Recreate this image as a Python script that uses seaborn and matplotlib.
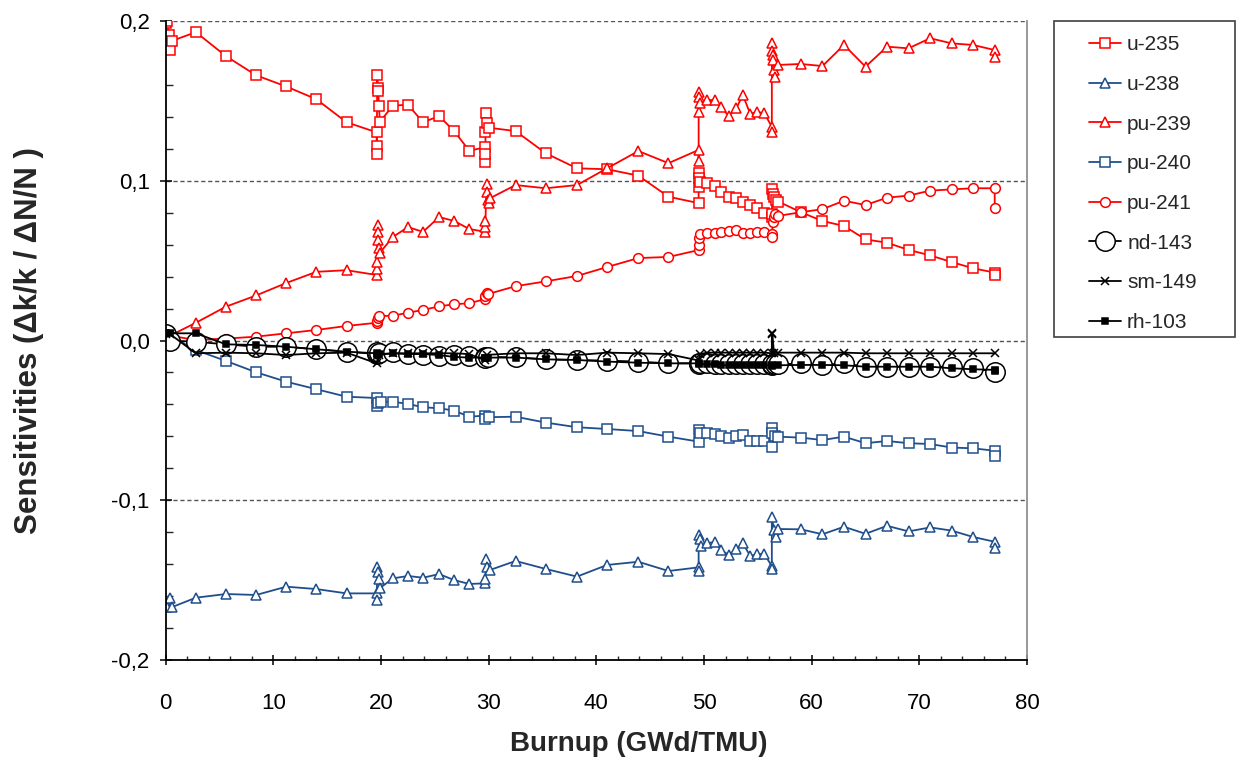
import matplotlib
matplotlib.use("Agg")
import matplotlib.pyplot as plt
import seaborn as sns
import pandas as pd
from matplotlib.lines import Line2D
from matplotlib.patches import Rectangle
from matplotlib.ticker import FixedLocator, FixedFormatter, MultipleLocator

# ---------------- data ----------------
series_names = ["u-235", "u-238", "pu-239", "pu-240", "pu-241", "nd-143", "sm-149", "rh-103"]

x_ticks = [0, 10, 20, 30, 40, 50, 60, 70, 80]
x_tick_labels = ["0", "10", "20", "30", "40", "50", "60", "70", "80"]
y_ticks = [-0.2, -0.1, 0.0, 0.1, 0.2]
y_tick_labels = ["-0,2", "-0,1", "0,0", "0,1", "0,2"]

u235_x = [0.0, 0.1, 0.3, 0.4, 0.55, 2.8, 5.6, 8.4, 11.2, 14.0, 16.8,
          19.6, 19.6, 19.6, 19.65, 19.7, 19.75, 19.8, 19.9,
          21.1, 22.5, 23.9, 25.4, 26.8, 28.2,
          29.7, 29.7, 29.7, 29.7, 29.75, 29.8, 30.0,
          32.5, 35.3, 38.2, 41.0, 43.9, 46.7,
          49.5, 49.5, 49.5, 49.55, 49.6,
          50.3, 51.0, 51.6, 52.3, 53.0, 53.6, 54.3, 54.9, 55.6,
          56.3, 56.3, 56.35, 56.4, 56.5, 56.7, 56.9,
          59.0, 61.0, 63.0, 65.0, 67.0, 69.0, 71.0, 73.0, 75.0, 77.0, 77.0]
u235_y = [0.199, 0.200, 0.191, 0.182, 0.1875, 0.193, 0.178, 0.166, 0.159, 0.151, 0.1366,
          0.1303, 0.1215, 0.1167, 0.166, 0.158, 0.156, 0.1468, 0.137,
          0.147, 0.1476, 0.1366, 0.1405, 0.131, 0.1188,
          0.121, 0.1115, 0.1165, 0.1307, 0.1426, 0.136, 0.1332,
          0.1311, 0.1172, 0.1078, 0.1072, 0.1032, 0.090,
          0.086, 0.0963, 0.1047, 0.102, 0.0994,
          0.0984, 0.0967, 0.093, 0.0896, 0.089, 0.087, 0.0848, 0.083, 0.080,
          0.077, 0.079, 0.095, 0.092, 0.090, 0.088, 0.087,
          0.0803, 0.0748, 0.0717, 0.0633, 0.0612, 0.0567, 0.0533, 0.0491, 0.0452, 0.0425, 0.041]

u238_x = [0.0, 0.1, 0.4, 0.55, 2.8, 5.6, 8.4, 11.2, 14.0, 16.8,
          19.6, 19.6, 19.65, 19.7, 19.8, 19.9,
          21.1, 22.5, 23.9, 25.4, 26.8, 28.2,
          29.7, 29.7, 29.75, 29.8, 30.1,
          32.5, 35.3, 38.2, 41.0, 43.9, 46.7,
          49.5, 49.5, 49.5, 49.6, 49.7,
          50.3, 51.0, 51.6, 52.3, 53.0, 53.6, 54.3, 54.9, 55.6,
          56.3, 56.3, 56.3, 56.5, 56.7, 56.9,
          59.0, 61.0, 63.0, 65.0, 67.0, 69.0, 71.0, 73.0, 75.0, 77.0, 77.0]
u238_y = [-0.1645, -0.167, -0.1614, -0.167, -0.161, -0.1587, -0.1593, -0.1541, -0.1556, -0.1583,
          -0.1583, -0.1625, -0.142, -0.145, -0.1495, -0.155,
          -0.1489, -0.1474, -0.1485, -0.1462, -0.150, -0.1524,
          -0.152, -0.149, -0.137, -0.142, -0.1437,
          -0.138, -0.143, -0.1478, -0.1405, -0.1385, -0.1443,
          -0.142, -0.1443, -0.1217, -0.124, -0.1286,
          -0.127, -0.126, -0.1311, -0.1343, -0.1307, -0.127, -0.1349, -0.1337, -0.1337,
          -0.1412, -0.1433, -0.1107, -0.1186, -0.1232, -0.118,
          -0.1182, -0.1213, -0.1166, -0.121, -0.116, -0.1195, -0.117, -0.119, -0.123, -0.126, -0.130]

pu239_x = [0.0, 0.4, 2.8, 5.6, 8.4, 11.2, 14.0, 16.8,
           19.6, 19.6, 19.6, 19.7, 19.7, 19.7, 19.8, 19.9,
           21.1, 22.5, 23.9, 25.4, 26.8, 28.2,
           29.7, 29.7, 29.7, 29.8, 29.8, 29.9, 30.0, 30.1,
           32.5, 35.3, 38.2, 41.0, 43.9, 46.7,
           49.5, 49.5, 49.5, 49.5, 49.55, 49.6,
           50.3, 51.0, 51.6, 52.3, 53.0, 53.6, 54.3, 54.9, 55.6,
           56.3, 56.3, 56.3, 56.35, 56.4, 56.45, 56.5, 56.6, 56.9,
           59.0, 61.0, 63.0, 65.0, 67.0, 69.0, 71.0, 73.0, 75.0, 77.0, 77.0]
pu239_y = [0.002, 0.003, 0.0111, 0.0212, 0.0282, 0.036, 0.043, 0.044,
           0.041, 0.045, 0.049, 0.072, 0.068, 0.063, 0.058, 0.055,
           0.0648, 0.071, 0.068, 0.0773, 0.0748, 0.0698,
           0.068, 0.071, 0.075, 0.098, 0.093, 0.088, 0.086, 0.089,
           0.0973, 0.0953, 0.0973, 0.1078, 0.1186, 0.111,
           0.1193, 0.1124, 0.1432, 0.1557, 0.1526, 0.1485,
           0.1505, 0.1505, 0.146, 0.1405, 0.1453, 0.1537, 0.1418, 0.1432, 0.1422,
           0.1338, 0.1307, 0.186, 0.181, 0.1787, 0.1756, 0.1693, 0.1651, 0.1725,
           0.1731, 0.1718, 0.185, 0.1714, 0.1839, 0.1829, 0.1892, 0.186, 0.185, 0.1818, 0.1777]

pu240_x = [0.0, 0.4, 2.8, 5.6, 8.4, 11.2, 14.0, 16.8,
           19.6, 19.6, 19.7, 20.0,
           21.1, 22.5, 23.9, 25.4, 26.8, 28.2,
           29.7, 29.7, 30.0,
           32.5, 35.3, 38.2, 41.0, 43.9, 46.7,
           49.5, 49.5, 49.6,
           50.3, 51.0, 51.6, 52.3, 53.0, 53.6, 54.3, 54.9, 55.6,
           56.3, 56.3, 56.35, 56.6, 56.9,
           59.0, 61.0, 63.0, 65.0, 67.0, 69.0, 71.0, 73.0, 75.0, 77.0, 77.0]
pu240_y = [0.004, 0.003, -0.006, -0.0128, -0.0199, -0.0258, -0.0305, -0.0352,
           -0.036, -0.041, -0.039, -0.0383,
           -0.0383, -0.0397, -0.0418, -0.0424, -0.0439, -0.0477,
           -0.047, -0.049, -0.048,
           -0.0477, -0.0514, -0.0543, -0.0554, -0.0567, -0.0602,
           -0.0633, -0.056, -0.0577,
           -0.0577, -0.0585, -0.0598, -0.0608, -0.0598, -0.0592, -0.0629, -0.0629, -0.0629,
           -0.0665, -0.055, -0.058, -0.0595, -0.0602,
           -0.0608, -0.0623, -0.0602, -0.0643, -0.0629, -0.0643, -0.0648, -0.067, -0.0675, -0.069, -0.072]

pu241_x = [0.0, 0.4, 2.8, 5.6, 8.4, 11.2, 14.0, 16.8,
           19.6, 19.65, 19.7, 19.8,
           21.1, 22.5, 23.9, 25.4, 26.8, 28.2,
           29.7, 29.7, 29.8, 29.9,
           32.5, 35.3, 38.2, 41.0, 43.9, 46.7,
           49.5, 49.5, 49.5, 49.6,
           50.3, 51.0, 51.6, 52.3, 53.0, 53.6, 54.3, 54.9, 55.6,
           56.3, 56.3, 56.4, 56.5, 56.6, 56.9,
           59.0, 61.0, 63.0, 65.0, 67.0, 69.0, 71.0, 73.0, 75.0, 77.0, 77.0]
pu241_y = [0.003, 0.003, 0.0003, 0.0012, 0.0024, 0.0045, 0.0066, 0.0091,
           0.0111, 0.0125, 0.014, 0.0153,
           0.0155, 0.0174, 0.0191, 0.0214, 0.0227, 0.0233,
           0.026, 0.028, 0.030, 0.029,
           0.034, 0.037, 0.0404, 0.046, 0.0516, 0.0523,
           0.0566, 0.060, 0.064, 0.0667,
           0.0673, 0.0673, 0.068, 0.0686, 0.069, 0.0673, 0.0673, 0.068, 0.068,
           0.0667, 0.065, 0.074, 0.077, 0.079, 0.078,
           0.0803, 0.0822, 0.0875, 0.0848, 0.0894, 0.0907, 0.0938, 0.0946, 0.0953, 0.0953, 0.0831]

nd143_x = [0.0, 0.4, 2.8, 5.6, 8.4, 11.2, 14.0, 16.8,
           19.6, 19.6, 19.8,
           21.1, 22.5, 23.9, 25.4, 26.8, 28.2,
           29.7, 29.7, 29.9,
           32.5, 35.3, 38.2, 41.0, 43.9, 46.7,
           49.5, 49.5, 49.6,
           50.3, 51.0, 51.6, 52.3, 53.0, 53.6, 54.3, 54.9, 55.6,
           56.3, 56.3, 56.6, 56.9,
           59.0, 61.0, 63.0, 65.0, 67.0, 69.0, 71.0, 73.0, 75.0, 77.0]
nd143_y = [0.004, 0.0, -0.0008, -0.0024, -0.0039, -0.0039, -0.0055, -0.007,
           -0.0085, -0.0075, -0.008,
           -0.0075, -0.0083, -0.0091, -0.0095, -0.0091, -0.0097,
           -0.0105, -0.011, -0.0103,
           -0.0105, -0.0118, -0.0122, -0.0126, -0.0132, -0.0143,
           -0.0143, -0.015, -0.0143,
           -0.0143, -0.0145, -0.0145, -0.0148, -0.0148, -0.015, -0.015, -0.015, -0.015,
           -0.0155, -0.0145, -0.015, -0.015,
           -0.0143, -0.0153, -0.0143, -0.0164, -0.0164, -0.0164, -0.0164, -0.0164, -0.0174, -0.0195]

sm149_x = [0.0, 0.4, 2.8, 5.6, 8.4, 11.2, 14.0, 16.8,
           19.6, 19.7, 19.8,
           21.1, 22.5, 23.9, 25.4, 26.8, 28.2,
           29.7, 29.8,
           32.5, 35.3, 38.2, 41.0, 43.9, 46.7,
           49.5, 49.6,
           50.3, 51.0, 51.6, 52.3, 53.0, 53.6, 54.3, 54.9, 55.6,
           56.3, 56.3, 56.35, 56.5, 56.9,
           59.0, 61.0, 63.0, 65.0, 67.0, 69.0, 71.0, 73.0, 75.0, 77.0]
sm149_y = [0.004, 0.004, -0.008, -0.0076, -0.008, -0.0091, -0.008, -0.0076,
           -0.0143, -0.012, -0.009,
           -0.008, -0.008, -0.008, -0.008, -0.008, -0.0085,
           -0.0125, -0.009,
           -0.008, -0.008, -0.0091, -0.0076, -0.008, -0.0085,
           -0.0125, -0.0085,
           -0.0076, -0.0076, -0.0076, -0.0076, -0.0076, -0.0076, -0.0076, -0.0076, -0.0076,
           -0.008, 0.0045, 0.004, -0.008, -0.0076,
           -0.0076, -0.0076, -0.0076, -0.008, -0.008, -0.008, -0.008, -0.008, -0.008, -0.008]

rh103_x = [0.0, 0.4, 2.8, 5.6, 8.4, 11.2, 14.0, 16.8,
           19.6, 19.6, 19.8,
           21.1, 22.5, 23.9, 25.4, 26.8, 28.2,
           29.7, 29.7, 29.9,
           32.5, 35.3, 38.2, 41.0, 43.9, 46.7,
           49.5, 49.5,
           50.3, 51.0, 51.6, 52.3, 53.0, 53.6, 54.3, 54.9, 55.6,
           56.3, 56.3, 56.9,
           59.0, 61.0, 63.0, 65.0, 67.0, 69.0, 71.0, 73.0, 75.0, 77.0, 77.0]
rh103_y = [0.0045, 0.0045, 0.0045, -0.0024, -0.0028, -0.0039, -0.0055, -0.007,
           -0.008, -0.009, -0.0085,
           -0.008, -0.0085, -0.0085, -0.0091, -0.0103, -0.0107,
           -0.0107, -0.011, -0.0107,
           -0.0107, -0.0118, -0.0122, -0.0132, -0.0139, -0.0143,
           -0.0143, -0.0148,
           -0.0149, -0.0149, -0.0155, -0.0155, -0.0155, -0.0155, -0.0155, -0.0155, -0.0155,
           -0.0155, -0.0158, -0.0155,
           -0.0153, -0.0153, -0.0155, -0.0164, -0.0164, -0.0164, -0.0164, -0.0174, -0.018, -0.0184, -0.019]

series_x = [u235_x, u238_x, pu239_x, pu240_x, pu241_x, nd143_x, sm149_x, rh103_x]
series_y = [u235_y, u238_y, pu239_y, pu240_y, pu241_y, nd143_y, sm149_y, rh103_y]

# ---------------- styles ----------------
RED = "#FF0000"
BLUE = "#1F4E8C"
styles = {
    "u-235":  dict(color=RED,   marker="s", markersize=7.4, markerfacecolor="white", markeredgecolor=RED),
    "u-238":  dict(color=BLUE,  marker="^", markersize=7.8, markerfacecolor="white", markeredgecolor=BLUE),
    "pu-239": dict(color=RED,   marker="^", markersize=7.8, markerfacecolor="white", markeredgecolor=RED),
    "pu-240": dict(color=BLUE,  marker="s", markersize=7.4, markerfacecolor="white", markeredgecolor=BLUE),
    "pu-241": dict(color=RED,   marker="o", markersize=7.0, markerfacecolor="white", markeredgecolor=RED),
    "nd-143": dict(color="black", marker="o", markersize=14, markerfacecolor="white", markeredgecolor="black"),
    "sm-149": dict(color="black", marker="x", markersize=6.0, markeredgecolor="black"),
    "rh-103": dict(color="black", marker="s", markersize=4.0, markerfacecolor="black", markeredgecolor="black"),
}

sns.set_style("white")
plt.rcParams["font.family"] = ["Liberation Sans", "DejaVu Sans"]

W, H = 1239, 758
fig = plt.figure(figsize=(W / 100, H / 100), dpi=100)
L, R, T, B = 165.7, 1027, 21, 660
ax = fig.add_axes([L / W, 1 - B / H, (R - L) / W, (B - T) / H])

for name, xs, ys in zip(series_names, series_x, series_y):
    df = pd.DataFrame({"burnup": xs, "sens": ys})
    sns.lineplot(data=df, x="burnup", y="sens", ax=ax, sort=False, estimator=None,
                 linewidth=1.3, markeredgewidth=1.1, legend=False, **styles[name])

ax.set_xlim(0, 80)
ax.set_ylim(-0.2, 0.2)
ax.xaxis.set_major_locator(FixedLocator(x_ticks))
ax.xaxis.set_major_formatter(FixedFormatter(x_tick_labels))
ax.xaxis.set_minor_locator(MultipleLocator(2))
ax.yaxis.set_major_locator(FixedLocator(y_ticks))
ax.yaxis.set_major_formatter(FixedFormatter(y_tick_labels))
ax.yaxis.set_minor_locator(MultipleLocator(0.02))

ax.yaxis.grid(True, which="major", linestyle=(0, (3, 2)), color="#555555", linewidth=1.0)
ax.xaxis.grid(False)
ax.set_axisbelow(True)

for s in ["left", "bottom"]:
    ax.spines[s].set_color("black")
    ax.spines[s].set_linewidth(1.3)
ax.spines["top"].set_visible(False)
ax.spines["right"].set_color("#909090")
ax.spines["right"].set_linewidth(1.3)

ax.tick_params(axis="x", which="major", direction="inout", length=7, width=1.1, colors="black",
               labelsize=16, pad=20, bottom=True)
ax.tick_params(axis="x", which="minor", direction="in", length=3, width=1.0, bottom=True)
ax.tick_params(axis="y", which="major", direction="inout", length=9, width=1.1, colors="black",
               labelsize=16, pad=7, left=True)
ax.tick_params(axis="y", which="minor", direction="in", length=5, width=1.0, left=True)

ax.set_xlabel("Burnup (GWd/TMU)", fontsize=20, fontweight="bold")
ax.set_ylabel("Sensitivities (Δk/k / ΔN/N )", fontsize=22.5, fontweight="bold")
ax.xaxis.set_label_coords(0.5495, -0.111)
ax.yaxis.set_label_coords(-0.141, 0.5)

# legend
handles = [Line2D([0], [0], linewidth=1.3, markeredgewidth=1.1, **styles[n]) for n in series_names]
leg = fig.legend(handles, series_names, loc="upper left",
                 bbox_to_anchor=(1089 / W, 1 - 35.5 / H), frameon=False, fontsize=15,
                 handlelength=1.54, handletextpad=0.29, labelspacing=0.99, borderpad=0,
                 borderaxespad=0)
fig.patches.append(Rectangle((1054 / W, 1 - 337 / H), 181 / W, 316 / H, transform=fig.transFigure,
                             fill=False, edgecolor="#404040", linewidth=1.2))

fig.savefig("out.png", dpi=100)
